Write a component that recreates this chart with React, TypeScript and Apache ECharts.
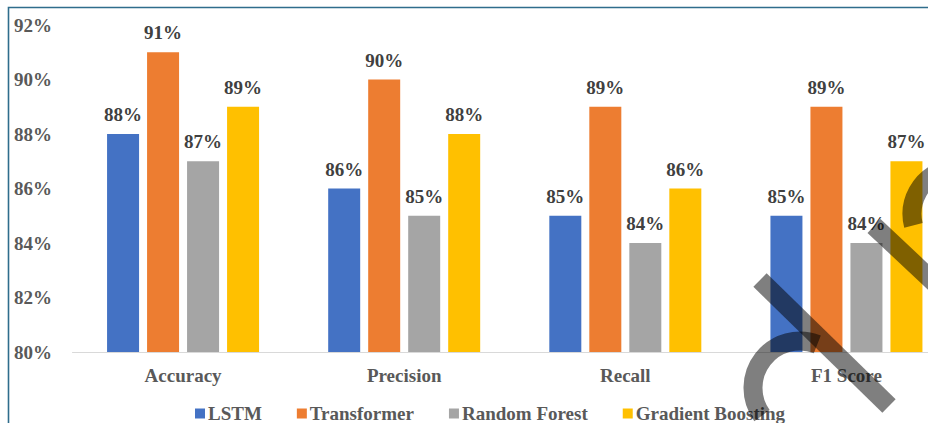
import React, { useEffect, useRef } from "react";
import * as echarts from "echarts";

const categories = ["Accuracy", "Precision", "Recall", "F1 Score"];
const seriesNames = ["LSTM", "Transformer", "Random Forest", "Gradient Boosting"];
const lstm = [88, 86, 85, 85];
const transformer = [91, 90, 89, 89];
const randomForest = [87, 85, 84, 84];
const gradientBoosting = [89, 88, 86, 87];
const colors = ["#4472C4", "#ED7D31", "#A5A5A5", "#FFC000"];

const FONT = "'Liberation Serif', 'Times New Roman', serif";

export default function App() {
  const ref = useRef<HTMLDivElement>(null);
  useEffect(() => {
    if (!ref.current) return;
    const chart = echarts.init(ref.current, null, { renderer: "svg" });
    const values = [lstm, transformer, randomForest, gradientBoosting];
    const wm = "rgba(0,0,0,0.5)";
    chart.setOption({
      animation: false,
      backgroundColor: "#ffffff",
      grid: { left: 72.5, top: 25, right: 0, bottom: 71 },
      legend: {
        left: 190,
        top: 399,
        itemWidth: 10,
        itemHeight: 10,
        itemGap: 35,
        icon: "rect",
        textStyle: { fontFamily: FONT, fontWeight: "bold", fontSize: 19, color: "#595959", padding: [0, 0, 0, -2] },
        data: seriesNames,
      },
      xAxis: {
        type: "category",
        data: categories,
        axisLine: { lineStyle: { color: "#d9d9d9", width: 1 } },
        axisTick: { show: false },
        axisLabel: { fontFamily: FONT, fontWeight: "bold", fontSize: 19, color: "#595959", margin: 14 },
      },
      yAxis: {
        type: "value",
        min: 80,
        max: 92,
        interval: 2,
        splitLine: { show: false },
        axisLine: { show: false },
        axisTick: { show: false },
        axisLabel: {
          fontFamily: FONT,
          fontWeight: "bold",
          fontSize: 19,
          color: "#595959",
          align: "left",
          margin: 58.5,
          formatter: "{value}%",
        },
      },
      series: seriesNames.map((name, i) => ({
        name,
        type: "bar",
        data: values[i],
        barWidth: 32,
        barGap: "25%",
        itemStyle: { color: colors[i] },
        label: {
          show: true,
          position: "top",
          distance: 10,
          formatter: "{c}%",
          fontFamily: FONT,
          fontWeight: "bold",
          fontSize: 19,
          color: "#404040",
        },
      })),
      graphic: [
        {
          type: "rect",
          shape: { x: 8.5, y: 7.5, width: 980, height: 460 },
          style: { fill: "none", stroke: "#2f6d8c", lineWidth: 1.6 },
          silent: true,
          z: 100,
        },
        {
          type: "line",
          shape: { x1: 760, y1: 280, x2: 889, y2: 406 },
          style: { stroke: wm, lineWidth: 19 },
          silent: true,
          z: 100,
        },
        {
          type: "arc",
          shape: { cx: 800, cy: 388, r: 47, startAngle: Math.PI * 0.8, endAngle: Math.PI * 1.62, clockwise: true },
          style: { stroke: wm, lineWidth: 19, fill: "none" },
          silent: true,
          z: 100,
        },
        {
          type: "line",
          shape: { x1: 874, y1: 226, x2: 940, y2: 288 },
          style: { stroke: wm, lineWidth: 19 },
          silent: true,
          z: 100,
        },
        {
          type: "arc",
          shape: { cx: 958, cy: 214, r: 46, startAngle: Math.PI * 0.92, endAngle: Math.PI * 1.4, clockwise: true },
          style: { stroke: wm, lineWidth: 19, fill: "none" },
          silent: true,
          z: 100,
        },
      ],
    });
    return () => chart.dispose();
  }, []);
  return (
    <div style={{ position: "absolute", left: 0, top: 0, width: 928, height: 423, overflow: "hidden" }}>
      <div ref={ref} style={{ width: 957, height: 423 }} />
    </div>
  );
}
